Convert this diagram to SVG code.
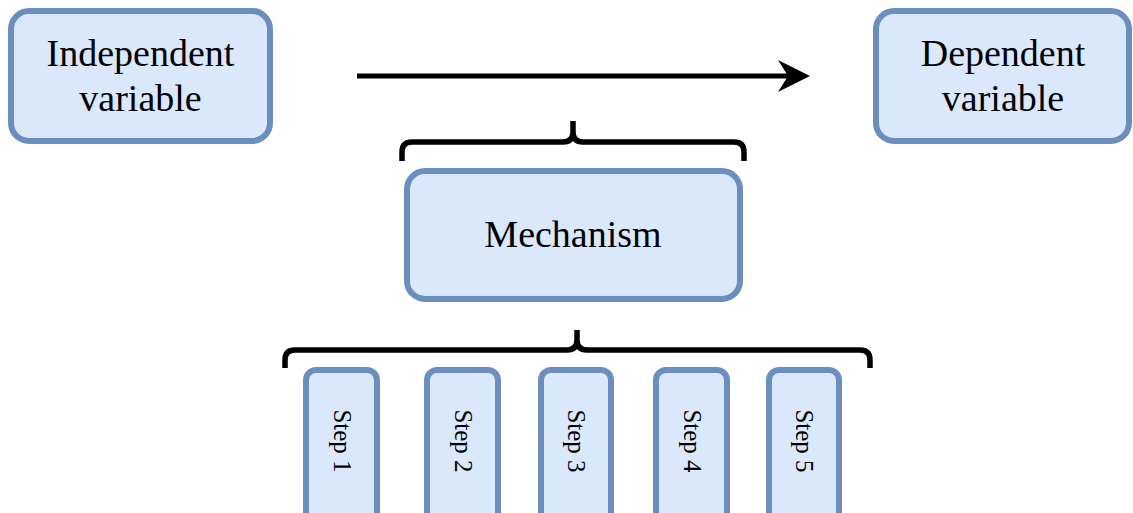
<svg xmlns="http://www.w3.org/2000/svg" width="1133" height="513" viewBox="0 0 1133 513">
  <style>
    .box { fill: #dae8fc; stroke: #6c8ebf; stroke-width: 6; }
    .label { font-family: "Liberation Serif", "Times New Roman", serif; fill: #000; text-anchor: middle; }
    .big { font-size: 38px; }
    .small { font-size: 25px; }
    .brace { fill: none; stroke: #000; stroke-width: 5.5; stroke-linejoin: round; }
  </style>
  <defs>
    <marker id="arrowhead" markerUnits="userSpaceOnUse" markerWidth="34" markerHeight="34" refX="14" refY="16" orient="auto" viewBox="0 0 34 34">
      <path d="M0,0 L32,16 L0,32 L10,16 Z" fill="#000"/>
    </marker>
  </defs>
  <rect width="1133" height="513" fill="#ffffff"/>

  <!-- connectors: causal arrow and the two grouping braces -->
  <g id="connectors">
    <line x1="357" y1="76" x2="792" y2="76" stroke="#000" stroke-width="5" marker-end="url(#arrowhead)"/>
    <path class="brace" d="M402,161 V152 Q402,142 412,142 H563 Q573,142 573,132 V121 M573,132 Q573,142 583,142 H734 Q744,142 744,152 V161"/>
    <path class="brace" d="M285,368 V360 Q285,350 295,350 H567 Q577,350 577,340 V330 M577,340 Q577,350 587,350 H860 Q870,350 870,360 V368"/>
  </g>

  <g id="independent">
    <rect class="box" x="11" y="11" width="259" height="130" rx="18"/>
    <text class="label big" x="140.5" y="66">Independent</text>
    <text class="label big" x="140.5" y="111">variable</text>
  </g>

  <g id="dependent">
    <rect class="box" x="876" y="11" width="253" height="130" rx="18"/>
    <text class="label big" x="1003" y="66">Dependent</text>
    <text class="label big" x="1003" y="111">variable</text>
  </g>

  <g id="mechanism">
    <rect class="box" x="407" y="171" width="333" height="128" rx="18"/>
    <text class="label big" x="573" y="247">Mechanism</text>
  </g>

  <g id="step1">
    <rect class="box" x="306" y="370" width="71" height="160" rx="10"/>
    <text class="label small" transform="translate(341.5,441) rotate(90)" dy="8">Step 1</text>
  </g>
  <g id="step2">
    <rect class="box" x="427" y="370" width="71" height="160" rx="10"/>
    <text class="label small" transform="translate(462.5,441) rotate(90)" dy="8">Step 2</text>
  </g>
  <g id="step3">
    <rect class="box" x="541" y="370" width="70" height="160" rx="10"/>
    <text class="label small" transform="translate(576,441) rotate(90)" dy="8">Step 3</text>
  </g>
  <g id="step4">
    <rect class="box" x="656" y="370" width="71" height="160" rx="10"/>
    <text class="label small" transform="translate(691.5,441) rotate(90)" dy="8">Step 4</text>
  </g>
  <g id="step5">
    <rect class="box" x="769" y="370" width="70" height="160" rx="10"/>
    <text class="label small" transform="translate(804,441) rotate(90)" dy="8">Step 5</text>
  </g>
</svg>
